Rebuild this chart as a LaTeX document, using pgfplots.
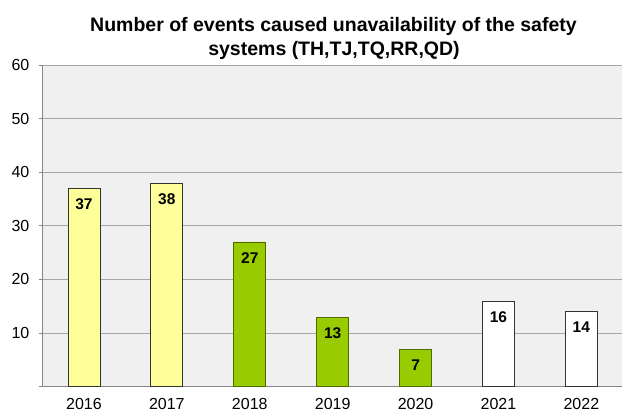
\documentclass[border=0pt]{standalone}
\usepackage{fontspec}
\setmainfont{Liberation Sans}
\usepackage{pgfplots}
\pgfplotsset{compat=1.18}
\definecolor{plotbg}{HTML}{F0F0F0}
\definecolor{baryellow}{HTML}{FFFF99}
\definecolor{bargreen}{HTML}{99CC00}
\definecolor{greenedge}{HTML}{4F6B00}
\definecolor{gridgray}{HTML}{A6A6A6}
\definecolor{axisgray}{HTML}{868686}
\begin{document}
\begin{tikzpicture}[x=1bp,y=1bp]
\useasboundingbox (0,0) rectangle (622,410);
\clip (0,0) rectangle (622,410);
\node[anchor=base, inner sep=0pt, font=\bfseries\fontsize{19.5bp}{23bp}\selectfont] at (333.5,378.3) {Number of events caused unavailability of the safety};
\node[anchor=base, inner sep=0pt, font=\bfseries\fontsize{19.5bp}{23bp}\selectfont] at (334,355) {systems (TH,TJ,TQ,RR,QD)};
\begin{axis}[
  at={(42.5bp,23.3bp)}, anchor=south west,
  scale only axis, width=580.3bp, height=321.7bp,
  xmin=-0.5, xmax=6.5, ymin=0, ymax=60,
  axis background/.style={fill=plotbg},
  axis x line*=bottom, axis y line*=left,
  axis line style={-, draw=axisgray, line width=1bp},
  ytick={0,10,...,60}, yticklabels={,10,20,30,40,50,60},
  ymajorgrids, grid style={draw=gridgray, line width=0.9bp},
  tick align=outside, major tick length=4bp,
  ytick style={draw=axisgray, line width=1bp},
  xtick={0,...,6}, xticklabels={2016,2017,2018,2019,2020,2021,2022},
  xtick style={draw=none},
  /pgf/number format/assume math mode=true,
  ticklabel style={font=\fontsize{16bp}{19bp}\selectfont},
  yticklabel style={anchor=east, inner sep=0pt, xshift=-9bp},
  xticklabel style={anchor=base, inner sep=0pt, yshift=-18.8bp},
  ybar, bar width=32bp,
  nodes near coords,
  every node near coord/.style={anchor=north, inner sep=0pt, yshift=-10bp, text=black, font=\bfseries\fontsize{15.5bp}{18bp}\selectfont},
]
\addplot[ybar, bar shift=0pt, fill=baryellow, draw=black!80, line width=0.8bp] coordinates {(0,37) (1,38)};
\addplot[ybar, bar shift=0pt, fill=bargreen, draw=greenedge, line width=0.8bp] coordinates {(2,27) (3,13) (4,7)};
\addplot[ybar, bar shift=0pt, fill=white, draw=black!80, line width=0.8bp] coordinates {(5,16) (6,14)};
\end{axis}
\end{tikzpicture}
\end{document}
